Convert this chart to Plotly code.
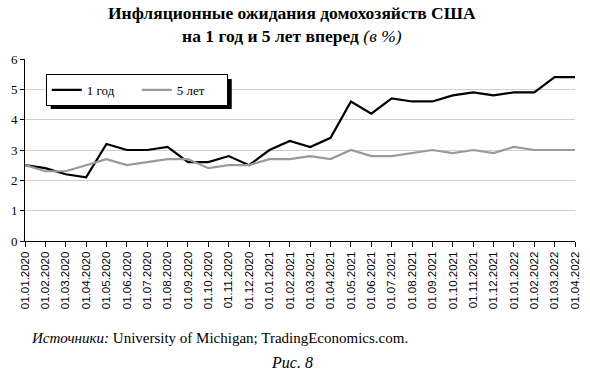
import plotly.graph_objects as go

dates = ["01.01.2020","01.02.2020","01.03.2020","01.04.2020","01.05.2020","01.06.2020",
         "01.07.2020","01.08.2020","01.09.2020","01.10.2020","01.11.2020","01.12.2020",
         "01.01.2021","01.02.2021","01.03.2021","01.04.2021","01.05.2021","01.06.2021",
         "01.07.2021","01.08.2021","01.09.2021","01.10.2021","01.11.2021","01.12.2021",
         "01.01.2022","01.02.2022","01.03.2022","01.04.2022"]
one_year = [2.5,2.4,2.2,2.1,3.2,3.0,3.0,3.1,2.6,2.6,2.8,2.5,
            3.0,3.3,3.1,3.4,4.6,4.2,4.7,4.6,4.6,4.8,4.9,4.8,
            4.9,4.9,5.4,5.4]
five_year = [2.5,2.3,2.3,2.5,2.7,2.5,2.6,2.7,2.7,2.4,2.5,2.5,
             2.7,2.7,2.8,2.7,3.0,2.8,2.8,2.9,3.0,2.9,3.0,2.9,
             3.1,3.0,3.0,3.0]
y_ticks = [0,1,2,3,4,5,6]

fig = go.Figure()
fig.add_trace(go.Scatter(x=dates, y=one_year, mode="lines", name="1 год",
                         line=dict(color="black", width=2.2)))
fig.add_trace(go.Scatter(x=dates, y=five_year, mode="lines", name="5 лет",
                         line=dict(color="#9a9a9a", width=2.2)))

W, H = 590, 375
ml, mr, mt, mb = 25, 9, 59, 134
pw, ph = W-ml-mr, H-mt-mb
fig.update_layout(
    width=W, height=H,
    margin=dict(l=ml, r=mr, t=mt, b=mb),
    paper_bgcolor="white", plot_bgcolor="white",
    showlegend=True,
    legend=dict(orientation="h", x=(46-ml)/pw, y=(H-mb-74)/ph, xanchor="left", yanchor="top",
                bgcolor="white", bordercolor="black", borderwidth=1,
                font=dict(family="Liberation Serif", size=13, color="black"),
                itemwidth=30, entrywidth=45, tracegroupgap=0),
    xaxis=dict(type="category", range=[0, len(dates)-1], showgrid=False,
               showline=True, linecolor="black", linewidth=1,
               ticks="outside", ticklen=5, tickcolor="black",
               tickangle=-90, tickfont=dict(family="Liberation Sans", size=11.5, color="black"),
               zeroline=False),
    yaxis=dict(range=[0, 6], tickvals=y_ticks, showgrid=True, gridcolor="#d0d0d0",
               gridwidth=1, showline=True, linecolor="black", linewidth=1,
               ticks="outside", ticklen=4, tickcolor="black",
               tickfont=dict(family="Liberation Serif", size=13, color="black"),
               zeroline=False),
)

# legend shadow
fig.add_shape(type="rect", xref="paper", yref="paper",
              x0=(51-ml)/pw, x1=(234-ml)/pw,
              y0=(H-mb-109)/ph, y1=(H-mb-79)/ph,
              fillcolor="black", line=dict(width=0), layer="above")

fig.add_annotation(xref="paper", yref="paper", x=(295-ml)/pw, y=1,
                   yshift=mt-1, yanchor="top", showarrow=False, align="center",
                   text="<b>Инфляционные ожидания домохозяйств США</b><br><b>на 1 год и 5 лет вперед</b> <i>(в %)</i>",
                   font=dict(family="Liberation Serif", size=17.5, color="black"))
fig.add_annotation(xref="paper", yref="paper", x=(29-ml)/pw, y=0,
                   yshift=-(338-(H-mb)), xanchor="left", yanchor="middle", showarrow=False,
                   text="<i>Источники:</i> University of Michigan; TradingEconomics.com.",
                   font=dict(family="Liberation Serif", size=15, color="black"))
fig.add_annotation(xref="paper", yref="paper", x=(295-ml)/pw, y=0,
                   yshift=-(362-(H-mb)), xanchor="center", yanchor="middle", showarrow=False,
                   text="<i>Рис. 8</i>",
                   font=dict(family="Liberation Serif", size=16, color="black"))

fig.write_html("out.html")
